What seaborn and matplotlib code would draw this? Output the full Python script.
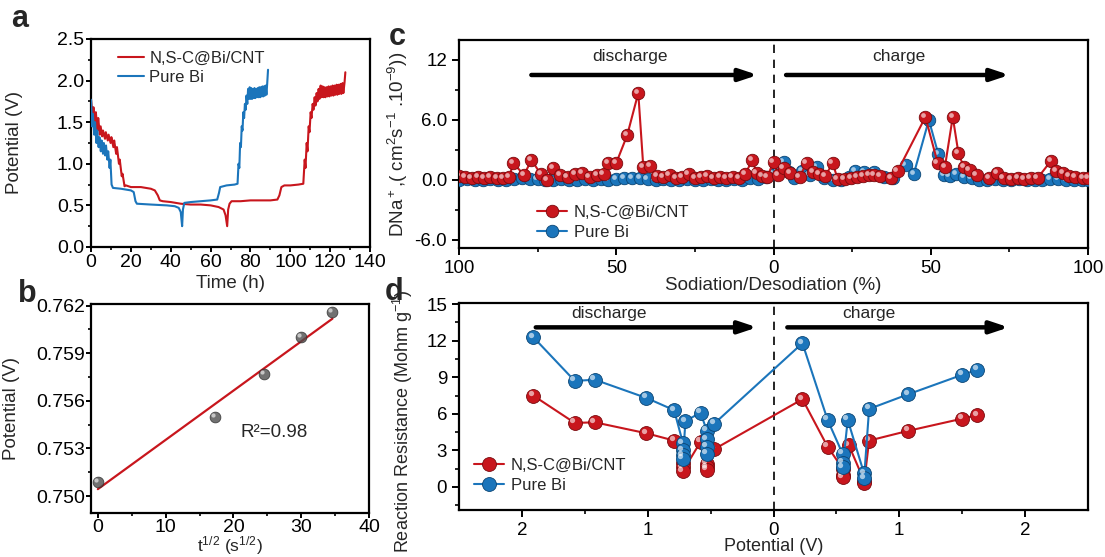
import seaborn as sns
import matplotlib.pyplot as plt
from matplotlib.transforms import offset_copy
from matplotlib.ticker import MultipleLocator, FixedLocator

# ---------------- data ----------------
# (a) GITT curves, time (h) / potential (V)
nsc_t = [0.0, 0.8, 1.2, 2.0, 2.4, 3.2, 3.6, 4.4, 4.8, 5.6, 6.0, 7.0, 7.4, 8.4, 8.8, 9.8, 10.2,
         11.2, 11.6, 12.6, 13.0, 14.0, 14.4, 15.4, 15.8, 16.8, 17.5, 20, 25, 30, 32, 33.5, 34.5,
         36, 40, 45, 50, 55, 60, 64, 66.5, 67.5, 68.3, 68.8, 69.5, 70.5, 75, 80, 85, 90, 93.5,
         94.5, 95.5, 97, 100, 104, 106.5, 107.2, 107.6, 108.2, 108.6, 109.2, 109.6, 110.2, 110.6,
         111.2, 111.6, 112.2, 112.6, 113.2, 113.6, 114.2, 114.6, 115.2, 115.6, 116.2, 116.6,
         117.2, 117.6, 118.2, 118.6, 119.2, 119.6, 120.2, 120.6, 121.2, 121.6, 122.2, 122.6,
         123.2, 123.6, 124.2, 124.6, 125.2, 125.6, 126.2, 126.6, 127.2, 127.6]
nsc_v = [1.77, 1.55, 1.68, 1.45, 1.62, 1.40, 1.55, 1.35, 1.45, 1.33, 1.40, 1.30, 1.38, 1.28, 1.35,
         1.25, 1.32, 1.20, 1.28, 1.12, 1.20, 1.00, 1.05, 0.85, 0.88, 0.73, 0.74, 0.72, 0.72, 0.70,
         0.68, 0.62, 0.56, 0.55, 0.54, 0.52, 0.51, 0.51, 0.50, 0.48, 0.45, 0.38, 0.25, 0.45, 0.52,
         0.55, 0.55, 0.56, 0.56, 0.56, 0.57, 0.62, 0.72, 0.74, 0.74, 0.75, 0.76, 1.05, 0.95, 1.25,
         1.15, 1.45, 1.38, 1.62, 1.55, 1.72, 1.65, 1.80, 1.70, 1.85, 1.75, 1.90, 1.78, 1.94, 1.80,
         1.93, 1.80, 1.92, 1.80, 1.92, 1.81, 1.93, 1.81, 1.93, 1.82, 1.94, 1.82, 1.94, 1.83, 1.95,
         1.83, 1.95, 1.84, 1.96, 1.84, 1.97, 1.85, 1.98, 2.10]
bi_t = [0.0, 0.5, 0.9, 1.6, 2.0, 2.7, 3.1, 3.8, 4.2, 4.9, 5.3, 6.0, 6.4, 7.1, 7.5, 8.2, 8.6, 9.3,
        9.7, 10.3, 11, 15, 20, 21.4, 22.3, 23, 30, 38, 42, 44, 45, 45.7, 46.1, 46.8, 50, 55, 60,
        63.3, 64.2, 64.8, 68, 72, 73.5, 74.0, 74.4, 74.8, 75.2, 75.6, 76.0, 76.4, 76.8, 77.2, 77.6,
        78.0, 78.4, 78.8, 79.2, 79.6, 80.0, 80.4, 80.8, 81.2, 81.6, 82.0, 82.4, 82.8, 83.2, 83.6,
        84.0, 84.4, 84.8, 85.2, 85.6, 86.0, 86.4, 86.8, 87.2, 87.6, 88.0, 88.4, 88.8]
bi_v = [1.77, 1.45, 1.60, 1.35, 1.50, 1.25, 1.40, 1.20, 1.32, 1.15, 1.28, 1.12, 1.25, 1.10, 1.22,
        1.05, 1.15, 0.95, 1.05, 0.75, 0.71, 0.70, 0.68, 0.66, 0.55, 0.52, 0.51, 0.50, 0.49, 0.47,
        0.42, 0.25, 0.45, 0.53, 0.54, 0.55, 0.56, 0.57, 0.65, 0.72, 0.74, 0.75, 0.76, 1.00, 0.95,
        1.25, 1.20, 1.45, 1.40, 1.62, 1.55, 1.72, 1.65, 1.82, 1.72, 1.90, 1.78, 1.92, 1.78, 1.91,
        1.78, 1.90, 1.79, 1.91, 1.79, 1.90, 1.80, 1.91, 1.80, 1.92, 1.80, 1.92, 1.81, 1.93, 1.81,
        1.93, 1.82, 1.94, 1.83, 1.97, 2.13]

# (b) potential vs t^1/2
b_sqrt_t = [0.0, 17.3, 24.5, 30.0, 34.6]
b_pot = [0.7509, 0.7550, 0.7577, 0.7600, 0.7616]

# (c) DNa+ vs sodiation (negative side = discharge, positive = charge)
c_nsc_x = [-100, -98, -96, -94, -92, -90, -88, -86, -84, -82.8, -79.3, -77, -74, -72, -70, -67.8,
           -65.5, -63, -60.8, -58.5, -56, -54, -52.5, -50, -46.5, -43, -41.4, -39.2, -37, -35, -33,
           -31, -29, -27, -25, -23, -21, -19, -17, -15, -13, -11, -9, -6.7, -5.4, -3.5, -2, 0,
           1.5, 3.2, 5.4, 8.3, 10.5, 12.5, 14.6, 16.5, 18.8, 20.4, 22.6, 24.8, 26.7, 28.6, 30.3,
           31.9, 34, 37.3, 39.5, 48.3, 52.2, 54.5, 57, 58.8, 60.5, 62.4, 64.6, 68.5, 71, 73.2, 75.5,
           77.7, 79.6, 81.8, 84, 88.2, 89.8, 92, 94, 96, 98.4, 100]
c_nsc_y = [0.4, 0.3, 0.2, 0.3, 0.2, 0.3, 0.2, 0.2, 0.3, 1.7, 0.5, 2.0, 0.6, 0.0, 1.2, 0.5, 0.3,
           0.6, 0.7, 0.3, 0.5, 0.6, 1.7, 1.7, 4.5, 8.7, 1.3, 1.4, 0.4, 0.3, 0.5, 0.2, 0.3, 0.6,
           0.2, 0.3, 0.4, 0.2, 0.3, 0.2, 0.3, 0.2, 0.6, 2.0, 0.7, 0.4, 0.3, 1.8,
           0.5, 1.2, 0.7, 0.3, 1.7, 0.8, 0.6, 0.4, 1.7, 0.1, 0.1, 0.2, 0.3, 0.4, 0.5, 0.5, 0.4,
           0.2, 0.9, 6.3, 1.7, 1.3, 6.3, 2.7, 1.3, 1.0, 0.5, 0.2, 0.7, 0.2, 0.1, 0.2, 0.1, 0.2,
           0.2, 1.9, 0.9, 0.7, 0.4, 0.3, 0.2, 0.2]
c_bi_x = [-100, -97.5, -95, -92.5, -90, -87.5, -85, -82.5, -80, -77.5, -75, -72.5, -70, -67.5,
          -65, -62.5, -60, -57.5, -55, -52.5, -50, -47.5, -45, -42.5, -40, -37.5, -35, -32.5,
          -30, -27.5, -25, -22.5, -20, -17.5, -15, -12.5, -10, -7.5, -5, -2.5, 0,
          1.5, 3.2, 5, 6.5, 9.2, 11.5, 13.7, 16, 19, 21.5, 24, 26, 28.7, 31.9, 35, 38, 42, 44.6,
          49.4, 52.4, 54.2, 56, 58, 60.5, 63, 65.5, 68, 70.5, 73, 75.5, 78, 80.5, 83, 85.5, 88,
          90.5, 93, 95.5, 98, 100]
c_bi_y = [0.0, 0.1, 0.0, 0.0, 0.1, 0.0, 0.0, 0.1, 0.2, 0.1, 0.1, 0.0, 0.0, 0.1, 0.0, 0.0, 0.1,
          0.0, 0.1, 0.0, 0.1, 0.2, 0.2, 0.2, 0.1, 0.0, 0.1, 0.0, 0.0, 0.1, 0.0, 0.0, 0.1, 0.0,
          0.0, 0.1, 0.0, 0.2, 0.1, 0.3, 0.6,
          0.8, 1.8, 0.8, 0.2, 0.9, 0.5, 1.3, 0.2, 0.0, 0.0, 0.3, 0.9, 0.8, 0.8, 0.3, 0.2, 1.5,
          0.6, 6.0, 2.6, 0.5, 0.4, 0.6, 0.3, 0.2, 0.0, 0.0, 0.1, 0.0, 0.0, 0.1, 0.0, 0.0, 0.0,
          0.1, 0.1, 0.0, 0.0, 0.0, 0.0]

# (d) reaction resistance vs potential (negative side = discharge)
d_nsc_x = [-1.91, -1.58, -1.42, -1.01, -0.79, -0.72, -0.72, -0.72, -0.58, -0.53, -0.53, -0.53,
           -0.47, 0.23, 0.43, 0.55, 0.55, 0.55, 0.60, 0.72, 0.72, 0.76, 1.07, 1.50, 1.62]
d_nsc_y = [7.5, 5.25, 5.3, 4.4, 3.8, 2.0, 1.6, 1.3, 3.7, 1.9, 1.6, 1.4, 3.1, 7.2, 3.3, 1.5, 1.0,
           0.8, 3.4, 0.5, 0.3, 3.8, 4.6, 5.6, 5.9]
d_bi_x = [-1.91, -1.58, -1.42, -1.01, -0.79, -0.72, -0.72, -0.72, -0.72, -0.70, -0.58, -0.53,
          -0.53, -0.53, -0.53, -0.47, 0.23, 0.43, 0.55, 0.55, 0.55, 0.59, 0.72, 0.72, 0.76, 1.07,
          1.50, 1.62]
d_bi_y = [12.3, 8.7, 8.8, 7.3, 6.3, 3.6, 3.0, 2.6, 2.3, 5.4, 6.1, 4.6, 3.9, 3.3, 2.7, 5.2, 11.8,
          5.5, 2.7, 2.0, 1.6, 5.5, 1.1, 0.7, 6.4, 7.6, 9.2, 9.6]

RED = '#C8161D'
BLUE = '#1B75BB'
RED_EDGE = '#7A0A0E'
BLUE_EDGE = '#0B4574'

sns.set_theme(style='ticks')
plt.rcParams['font.family'] = ['Liberation Sans', 'DejaVu Sans']
plt.rcParams['mathtext.fontset'] = 'custom'
plt.rcParams['mathtext.rm'] = 'Liberation Sans'
plt.rcParams['mathtext.it'] = 'Liberation Sans:italic'
plt.rcParams['mathtext.bf'] = 'Liberation Sans:bold'

LAB = 13.5

fig = plt.figure(figsize=(11.05, 5.57), dpi=100)


def style(ax, size=13.5, length=5, pad=4):
    for s in ax.spines.values():
        s.set_linewidth(1.6)
        s.set_color('black')
    ax.tick_params(which='major', direction='out', length=length, width=1.4, labelsize=size,
                   color='black', labelcolor='black', top=False, right=False, pad=pad)
    ax.tick_params(which='minor', direction='out', length=length * 0.6, width=1.2,
                   color='black')


def shine(ax, x, y, ms, z):
    tr = offset_copy(ax.transData, fig=fig, x=-ms * 0.18, y=ms * 0.18, units='points')
    ax.plot(x, y, 'o', ms=ms * 0.38, color='white', alpha=0.6, mec='none',
            transform=tr, zorder=z)


# ---------------- a ----------------
ax_a = fig.add_axes([0.0824, 0.5566, 0.2525, 0.3734])
sns.lineplot(x=nsc_t, y=nsc_v, sort=False, estimator=None, color=RED, lw=1.5,
             label='N,S-C@Bi/CNT', ax=ax_a, zorder=2)
sns.lineplot(x=bi_t, y=bi_v, sort=False, estimator=None, color=BLUE, lw=1.5,
             label='Pure Bi', ax=ax_a, zorder=3)
ax_a.set_xlim(0, 140)
ax_a.set_ylim(0, 2.5)
ax_a.xaxis.set_major_locator(MultipleLocator(20))
ax_a.xaxis.set_minor_locator(MultipleLocator(10))
ax_a.yaxis.set_major_locator(MultipleLocator(0.5))
ax_a.yaxis.set_minor_locator(MultipleLocator(0.25))
ax_a.yaxis.set_major_formatter(plt.FormatStrFormatter('%.1f'))
ax_a.set_xlabel('Time (h)', fontsize=LAB)
ax_a.set_ylabel('Potential (V)', fontsize=LAB)
style(ax_a, 14, 3.5, 1.5)
ax_a.yaxis.set_label_coords(-0.245, 0.5)
ax_a.xaxis.set_label_coords(0.5, -0.135)
ax_a.legend(loc='upper left', bbox_to_anchor=(0.06, 0.99), frameon=False, fontsize=12,
            handlelength=1.6, handletextpad=0.3, labelspacing=0.25, borderaxespad=0.2)

# ---------------- b ----------------
ax_b = fig.add_axes([0.0824, 0.079, 0.2516, 0.3752])
sns.regplot(x=b_sqrt_t, y=b_pot, ci=None, ax=ax_b,
            scatter_kws=dict(s=60, color='#4d4d4d', edgecolor='#2a2a2a', linewidths=0.6,
                             zorder=3),
            line_kws=dict(color=RED, lw=1.6, zorder=2))
shine(ax_b, b_sqrt_t, b_pot, 8, 4)
ax_b.set_xlim(-1, 40)
ax_b.set_ylim(0.74893, 0.7621)
ax_b.xaxis.set_major_locator(MultipleLocator(10))
ax_b.xaxis.set_minor_locator(MultipleLocator(5))
ax_b.yaxis.set_major_locator(FixedLocator([0.750, 0.753, 0.756, 0.759, 0.762]))
ax_b.yaxis.set_minor_locator(FixedLocator([0.7515, 0.7545, 0.7575, 0.7605]))
ax_b.yaxis.set_major_formatter(plt.FormatStrFormatter('%.3f'))
ax_b.set_xlabel(r't$^{1/2}$ (s$^{1/2}$)', fontsize=12.5)
ax_b.set_ylabel('Potential (V)', fontsize=LAB)
ax_b.text(21, 0.7540, 'R²=0.98', fontsize=13.5, va='center', ha='left')
style(ax_b, 14, 3.5, 1.0)
ax_b.yaxis.set_label_coords(-0.255, 0.5)
ax_b.xaxis.set_label_coords(0.5, -0.103)

# ---------------- c ----------------
ax_c = fig.add_axes([0.4154, 0.5548, 0.5692, 0.3734])
ax_c.axvline(0, color='black', ls=(0, (5, 4)), lw=1.2, zorder=1)
sns.lineplot(x=c_bi_x, y=c_bi_y, sort=False, estimator=None, color=BLUE, lw=1.5,
             marker='o', markersize=9, markerfacecolor=BLUE, markeredgecolor=BLUE_EDGE,
             markeredgewidth=0.6, label='Pure Bi', ax=ax_c, zorder=3)
shine(ax_c, c_bi_x, c_bi_y, 9, 3.1)
sns.lineplot(x=c_nsc_x, y=c_nsc_y, sort=False, estimator=None, color=RED, lw=1.5,
             marker='o', markersize=9, markerfacecolor=RED, markeredgecolor=RED_EDGE,
             markeredgewidth=0.6, label='N,S-C@Bi/CNT', ax=ax_c, zorder=4)
shine(ax_c, c_nsc_x, c_nsc_y, 9, 4.1)
ax_c.set_xlim(-100, 100)
ax_c.set_ylim(-6.8, 14)
ax_c.xaxis.set_major_locator(FixedLocator([-100, -50, 0, 50, 100]))
ax_c.set_xticklabels(['100', '50', '0', '50', '100'])
ax_c.xaxis.set_minor_locator(FixedLocator([-75, -25, 25, 75]))
ax_c.yaxis.set_major_locator(FixedLocator([-6, 0, 6, 12]))
ax_c.set_yticklabels(['-6.0', '0.0', '6.0', '12'])
ax_c.yaxis.set_minor_locator(FixedLocator([-3, 3, 9]))
ax_c.set_xlabel('Sodiation/Desodiation (%)', fontsize=LAB)
ax_c.set_ylabel(r'DNa$^+$,( cm$^2$s$^{-1}$ .10$^{-9}$))', fontsize=LAB)
arrow = dict(arrowstyle='-|>,head_length=0.9,head_width=0.3', lw=3.2, color='black',
             shrinkA=0, shrinkB=0)
ax_c.annotate('', xy=(-5, 10.5), xytext=(-77, 10.5), arrowprops=arrow)
ax_c.annotate('', xy=(75, 10.5), xytext=(4, 10.5), arrowprops=arrow)
ax_c.text(-45.5, 12.3, 'discharge', fontsize=12.5, ha='center', va='center')
ax_c.text(40, 12.3, 'charge', fontsize=12.5, ha='center', va='center')
style(ax_c, 13.5, 5, 3.5)
ax_c.yaxis.set_label_coords(-0.078, 0.5)
ax_c.xaxis.set_label_coords(0.5, -0.14)
h, l = ax_c.get_legend_handles_labels()
ax_c.legend([h[1], h[0]], [l[1], l[0]], loc='lower left', bbox_to_anchor=(0.1, -0.035),
            frameon=False, fontsize=12, handlelength=1.8, handletextpad=0.4,
            labelspacing=0.3)

# ---------------- d ----------------
ax_d = fig.add_axes([0.4154, 0.0844, 0.5692, 0.3716])
ax_d.axvline(0, color='black', ls=(0, (5, 4)), lw=1.2, zorder=1)
sns.lineplot(x=d_nsc_x, y=d_nsc_y, sort=False, estimator=None, color=RED, lw=1.5,
             marker='o', markersize=10, markerfacecolor=RED, markeredgecolor=RED_EDGE,
             markeredgewidth=0.6, label='N,S-C@Bi/CNT', ax=ax_d, zorder=3)
shine(ax_d, d_nsc_x, d_nsc_y, 10, 3.1)
sns.lineplot(x=d_bi_x, y=d_bi_y, sort=False, estimator=None, color=BLUE, lw=1.5,
             marker='o', markersize=10, markerfacecolor=BLUE, markeredgecolor=BLUE_EDGE,
             markeredgewidth=0.6, label='Pure Bi', ax=ax_d, zorder=4)
shine(ax_d, d_bi_x, d_bi_y, 10, 4.1)
ax_d.set_xlim(-2.5, 2.5)
ax_d.set_ylim(-1.9, 15.1)
ax_d.xaxis.set_major_locator(FixedLocator([-2, -1, 0, 1, 2]))
ax_d.set_xticklabels(['2', '1', '0', '1', '2'])
ax_d.xaxis.set_minor_locator(FixedLocator([-1.5, -0.5, 0.5, 1.5]))
ax_d.yaxis.set_major_locator(MultipleLocator(3))
ax_d.yaxis.set_minor_locator(MultipleLocator(1.5))
ax_d.set_xlabel('Potential (V)', fontsize=13)
ax_d.set_ylabel(r'Reaction Resistance (Mohm g$^{-1}$)', fontsize=13)
ax_d.annotate('', xy=(-0.13, 13.1), xytext=(-1.89, 13.1), arrowprops=arrow)
ax_d.annotate('', xy=(1.87, 13.1), xytext=(0.11, 13.1), arrowprops=arrow)
ax_d.text(-1.31, 14.2, 'discharge', fontsize=12.5, ha='center', va='center')
ax_d.text(0.76, 14.2, 'charge', fontsize=12.5, ha='center', va='center')
style(ax_d, 13.5, 5, 3.5)
ax_d.yaxis.set_label_coords(-0.07, 0.43)
ax_d.xaxis.set_label_coords(0.5, -0.135)
ax_d.legend(loc='lower left', bbox_to_anchor=(0.0, 0.01), frameon=False, fontsize=12,
            handlelength=1.8, handletextpad=0.4, labelspacing=0.3)

# panel letters
for x, y, s in [(0.010, 0.952, 'a'), (0.016, 0.458, 'b'), (0.352, 0.919, 'c'),
                (0.348, 0.461, 'd')]:
    fig.text(x, y, s, fontsize=22, fontweight='bold', va='baseline')

fig.savefig('out.png', dpi=100)
